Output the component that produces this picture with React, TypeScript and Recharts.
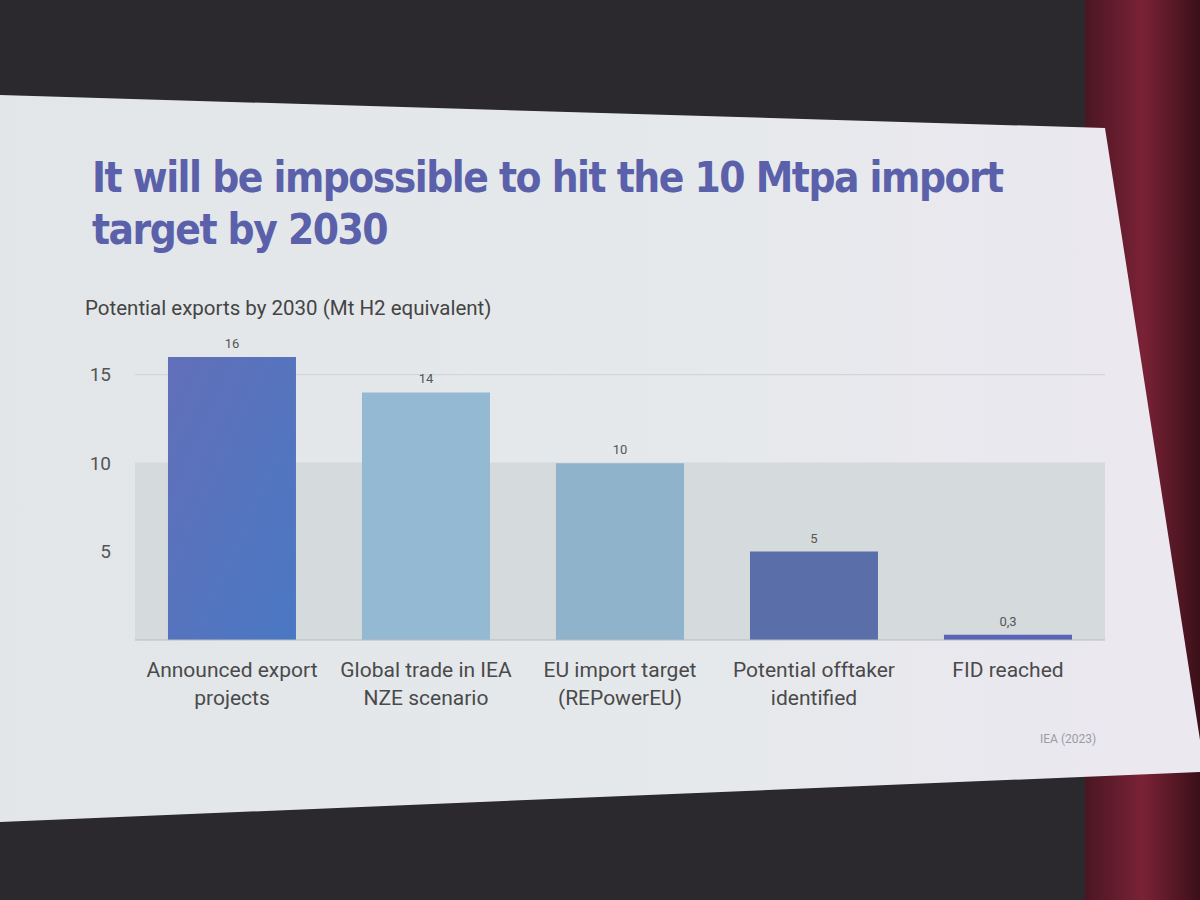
import { BarChart, Bar, XAxis, YAxis, CartesianGrid, ReferenceArea, LabelList, Cell } from 'recharts'

const categories = [
  'Announced export projects',
  'Global trade in IEA NZE scenario',
  'EU import target (REPowerEU)',
  'Potential offtaker identified',
  'FID reached',
]
const values = [16, 14, 10, 5, 0.3]
const barColors = ['url(#announcedFill)', '#93b9d3', '#8fb3cb', '#5a6ea9', '#5865b6']
const yTicks = [5, 10, 15]

const data = categories.map((name, i) => ({ name, value: values[i] }))

const FONT = 'Roboto, "Noto Sans", sans-serif'

// split a long category name into lines of ~19 chars
function wrap(label: string, max = 19) {
  const words = label.split(' ')
  const lines: string[] = []
  let cur = ''
  for (const w of words) {
    const next = cur ? cur + ' ' + w : w
    if (next.length > max && cur) {
      lines.push(cur)
      cur = w
    } else {
      cur = next
    }
  }
  if (cur) lines.push(cur)
  return lines
}

function CategoryTick(props: any) {
  const { x, y, payload } = props
  const lines = wrap(payload.value)
  return (
    <text x={x} y={y} textAnchor="middle" fill="#4a4a4a" fontSize={21} fontFamily={FONT}>
      {lines.map((l, i) => (
        <tspan key={i} x={x} dy={i === 0 ? 29 : 28}>
          {l}
        </tspan>
      ))}
    </text>
  )
}

export default function App() {
  return (
    <div
      style={{
        position: 'absolute',
        left: 0,
        top: 0,
        width: 1200,
        height: 900,
        overflow: 'hidden',
        background: '#2b292d',
        fontFamily: FONT,
      }}
    >
      <div
        style={{
          position: 'absolute',
          left: 1085,
          top: 0,
          width: 115,
          height: 900,
          background: 'linear-gradient(90deg, #4a1622, #7a2236 50%, #3a1018)',
        }}
      />
      <div
        style={{
          position: 'absolute',
          left: 0,
          top: 0,
          width: 1200,
          height: 900,
          background: 'linear-gradient(90deg, #e2e6e9 0%, #e6e9ec 60%, #ece8f0 100%)',
          clipPath: 'polygon(0px 95px, 1105px 128px, 1200px 740px, 1200px 772px, 0px 822px)',
        }}
      />
      <div
        style={{
          position: 'absolute',
          left: 92,
          top: 152,
          color: '#5a60aa',
          fontSize: 42,
          lineHeight: '52px',
          fontWeight: 700,
          fontFamily: '"DejaVu Sans Condensed", Roboto, sans-serif',
          letterSpacing: -1.5,
        }}
      >
        It will be impossible to hit the 10 Mtpa import
        <br />
        target by 2030
      </div>
      <div style={{ position: 'absolute', left: 85, top: 296, color: '#444', fontSize: 20.5 }}>
        Potential exports by 2030 (Mt H2 equivalent)
      </div>
      <div style={{ position: 'absolute', left: 0, top: 320 }}>
        <BarChart
          width={1200}
          height={410}
          data={data}
          margin={{ top: 37, right: 95, left: 0, bottom: 0 }}
          barCategoryGap="17%"
        >
          <defs>
            <linearGradient id="announcedFill" x1="0" y1="0" x2="1" y2="1">
              <stop offset="0%" stopColor="#626fb9" />
              <stop offset="100%" stopColor="#4a78c3" />
            </linearGradient>
          </defs>
          <ReferenceArea y1={0} y2={10} fill="#d5dadd" fillOpacity={1} stroke="none" />
          <CartesianGrid vertical={false} stroke="#cdd2d6" horizontalValues={yTicks} />
          <XAxis
            dataKey="name"
            interval={0}
            height={90}
            tickLine={false}
            axisLine={{ stroke: '#b7bdc3' }}
            tick={<CategoryTick />}
          />
          <YAxis
            width={135}
            domain={[0, 16]}
            ticks={yTicks}
            axisLine={false}
            tickLine={false}
            tickMargin={18}
            tick={{ fill: '#555', fontSize: 19, fontFamily: FONT }}
          />
          <Bar dataKey="value" isAnimationActive={false}>
            {data.map((d, i) => (
              <Cell key={d.name} fill={barColors[i]} />
            ))}
            <LabelList
              dataKey="value"
              position="top"
              offset={9}
              fill="#555"
              fontSize={13}
              fontFamily={FONT}
              formatter={(v: any) => String(v).replace('.', ',')}
            />
          </Bar>
        </BarChart>
      </div>
      <div style={{ position: 'absolute', left: 1040, top: 732, color: '#9a9ca3', fontSize: 12 }}>
        IEA (2023)
      </div>
    </div>
  )
}
